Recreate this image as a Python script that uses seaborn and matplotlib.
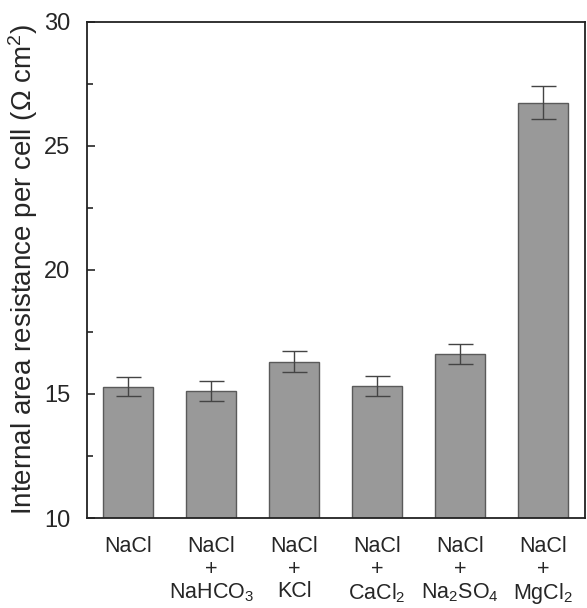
import numpy as np
import pandas as pd
import matplotlib
matplotlib.use("Agg")
import matplotlib.pyplot as plt
import seaborn as sns
from matplotlib.ticker import MultipleLocator

sns.set_style("ticks")
plt.rcParams["font.family"] = ["Liberation Sans", "DejaVu Sans"]
plt.rcParams["mathtext.fontset"] = "custom"
plt.rcParams["mathtext.rm"] = "Liberation Sans"
plt.rcParams["mathtext.default"] = "regular"

# === DATA ===
categories = [
    "NaCl",
    "NaCl\n+\nNaHCO$_3$",
    "NaCl\n+\nKCl",
    "NaCl\n+\nCaCl$_2$",
    "NaCl\n+\nNa$_2$SO$_4$",
    "NaCl\n+\nMgCl$_2$",
]
resistance = [15.3, 15.13, 16.3, 15.33, 16.6, 26.75]
resistance_err = [0.38, 0.4, 0.42, 0.4, 0.4, 0.66]

df = pd.DataFrame({"Solution": categories, "Resistance": resistance})

fig = plt.figure(figsize=(5.87, 6.08), dpi=100)
ax = fig.add_axes([0.148, 0.148, 0.848, 0.816])

sns.barplot(data=df, x="Solution", y="Resistance", color="#999999",
            edgecolor="#5a5a5a", linewidth=1.0, width=0.6, saturation=1, ax=ax)
ax.errorbar(np.arange(len(categories)), resistance, yerr=resistance_err,
            fmt="none", ecolor="#444444", elinewidth=1.0, capsize=9, capthick=1.0)

# Formatting
ax.set_ylim(10, 30)
ax.set_xlim(-0.5, len(categories) - 0.5)
ax.yaxis.set_major_locator(MultipleLocator(5))
ax.yaxis.set_minor_locator(MultipleLocator(2.5))
ax.tick_params(axis="y", which="major", direction="in", length=6, width=1.2, labelsize=17, pad=12)
ax.tick_params(axis="y", which="minor", direction="in", length=4, width=1.2)
ax.tick_params(axis="x", length=0, labelsize=15.5, pad=13)
for lbl in ax.get_xticklabels():
    lbl.set_linespacing(1.1)
    lbl.set_verticalalignment("top")
ax.set_xlabel("")
ax.set_ylabel("Internal area resistance per cell ($\\Omega$ cm$^2$)", fontsize=20, labelpad=3)
for s in ax.spines.values():
    s.set_linewidth(1.3)
    s.set_color("#222222")

plt.savefig("out.png", dpi=100)
